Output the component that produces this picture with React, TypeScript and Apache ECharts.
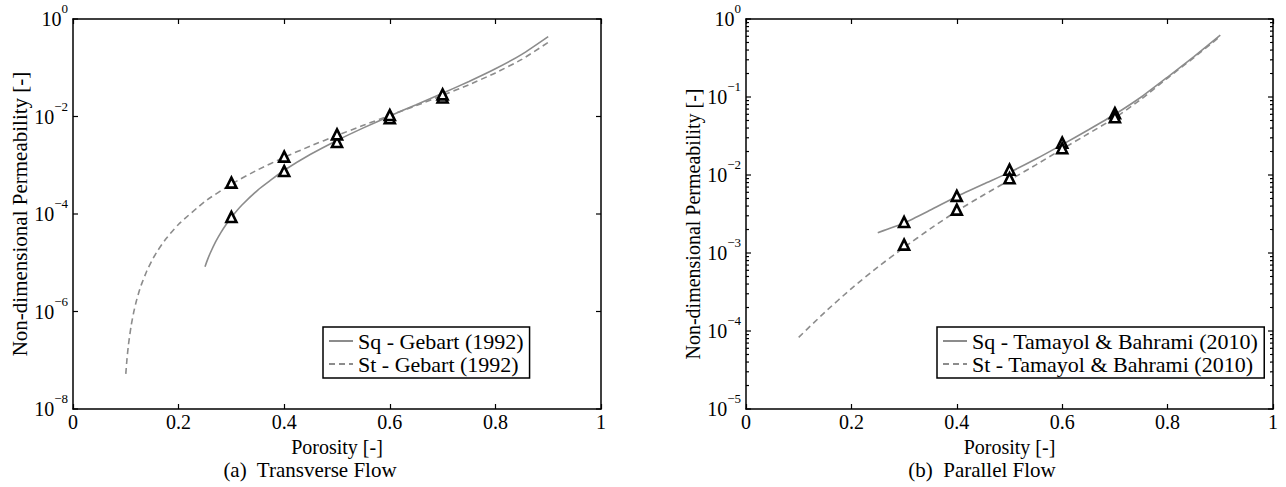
import React, { useEffect, useRef } from 'react';
import * as echarts from 'echarts';

const FONT = 'Liberation Serif';

// ---------- (a) Transverse Flow ----------
const A_SQ_POROSITY = [0.25, 0.255, 0.26, 0.27, 0.28, 0.29, 0.3, 0.32, 0.35, 0.375, 0.4, 0.45, 0.5, 0.55, 0.6, 0.65, 0.7, 0.75, 0.8, 0.85, 0.9];
const A_SQ_K = [8.31e-6, 1.171e-5, 1.588e-5, 2.678e-5, 4.161e-5, 6.095e-5, 8.545e-5, 1.526e-4, 3.102e-4, 5.0e-4, 7.884e-4, 1.679e-3, 3.23e-3, 5.843e-3, 1.02e-2, 1.75e-2, 3.003e-2, 5.244e-2, 9.548e-2, 0.1884, 0.4362];
const A_ST_POROSITY = [0.1, 0.102, 0.105, 0.11, 0.115, 0.12, 0.125, 0.13, 0.14, 0.15, 0.16, 0.175, 0.2, 0.25, 0.3, 0.35, 0.4, 0.45, 0.5, 0.55, 0.6, 0.65, 0.7, 0.75, 0.8, 0.85, 0.9];
const A_ST_K = [5.24e-8, 9.91e-8, 2.07e-7, 5.01e-7, 9.69e-7, 1.64e-6, 2.53e-6, 3.69e-6, 6.85e-6, 1.14e-5, 1.74e-5, 2.99e-5, 6.15e-5, 1.81e-4, 4.1e-4, 8.07e-4, 1.456e-3, 2.485e-3, 4.09e-3, 6.59e-3, 1.051e-2, 1.676e-2, 2.709e-2, 4.495e-2, 7.83e-2, 0.1485, 0.3314];
const MARK_POROSITY = [0.3, 0.4, 0.5, 0.6, 0.7];
const A_MARK_SQ = [8.7e-5, 7.6e-4, 3.0e-3, 9.2e-3, 2.45e-2];
const A_MARK_ST = [4.4e-4, 1.5e-3, 4.3e-3, 1.07e-2, 2.85e-2];
const A_Y_TICKS = [1e-8, 1e-6, 1e-4, 1e-2, 1];

// ---------- (b) Parallel Flow ----------
const B_SQ_POROSITY = [0.25, 0.3, 0.35, 0.4, 0.45, 0.5, 0.55, 0.6, 0.65, 0.7, 0.75, 0.8, 0.85, 0.9];
const B_SQ_K = [1.82e-3, 2.42e-3, 3.55e-3, 5.3e-3, 7.6e-3, 1.08e-2, 1.6e-2, 2.45e-2, 3.8e-2, 6.0e-2, 0.1, 0.18, 0.33, 0.62];
const B_ST_POROSITY = [0.1, 0.15, 0.2, 0.25, 0.3, 0.35, 0.4, 0.45, 0.5, 0.55, 0.6, 0.65, 0.7, 0.75, 0.8, 0.85, 0.9];
const B_ST_K = [8.3e-5, 1.75e-4, 3.5e-4, 6.6e-4, 1.18e-3, 2.05e-3, 3.45e-3, 5.5e-3, 8.6e-3, 1.35e-2, 2.15e-2, 3.4e-2, 5.4e-2, 9.4e-2, 0.175, 0.32, 0.6];
const B_MARK_SQ = [2.5e-3, 5.4e-3, 1.17e-2, 2.6e-2, 6.2e-2];
const B_MARK_ST = [1.28e-3, 3.6e-3, 9.1e-3, 2.2e-2, 5.5e-2];
const B_Y_TICKS = [1e-5, 1e-4, 1e-3, 1e-2, 1e-1, 1];
const MINOR_MULT = [2, 3, 4, 5, 6, 7, 8, 9];
const B_DECADES = [1e-5, 1e-4, 1e-3, 1e-2, 1e-1];

const LEGEND_A = ['Sq - Gebart (1992)', 'St - Gebart (1992)'];
const LEGEND_B = ['Sq - Tamayol & Bahrami (2010)', 'St - Tamayol & Bahrami (2010)'];

const zip = (xs: number[], ys: number[]) => xs.map((x, i) => [x, ys[i]]);

const CURVE_COLOR = '#8c8c8c';

function lineSeries(name: string, xi: number, yi: number, data: number[][], dashed: boolean) {
  return {
    name,
    type: 'line',
    xAxisIndex: xi,
    yAxisIndex: yi,
    data,
    symbol: 'none',
    showSymbol: false,
    smooth: 0.2,
    lineStyle: { color: CURVE_COLOR, width: 1.6, type: dashed ? [6, 4] : 'solid' },
    itemStyle: { color: CURVE_COLOR },
    z: 3,
  };
}

function markerSeries(xi: number, yi: number, data: number[][]) {
  return {
    type: 'scatter',
    xAxisIndex: xi,
    yAxisIndex: yi,
    data,
    symbol: 'triangle',
    symbolSize: [10, 10],
    itemStyle: { color: '#fff', borderColor: '#000', borderWidth: 2.6, opacity: 1 },
    z: 5,
    silent: true,
  };
}

function tickSeries(xi: number, yi: number, values: number[], len: number) {
  return {
    type: 'custom',
    xAxisIndex: xi,
    yAxisIndex: yi,
    silent: true,
    z: 10,
    data: values.map((v) => [0, v]),
    renderItem: (params: any, api: any) => {
      const v = api.value(1);
      const a = api.coord([0, v]);
      const b = api.coord([1, v]);
      return {
        type: 'group',
        children: [
          { type: 'line', shape: { x1: a[0], y1: a[1], x2: a[0] + len, y2: a[1] }, style: { stroke: '#000', lineWidth: 1.2 } },
          { type: 'line', shape: { x1: b[0] - len, y1: b[1], x2: b[0], y2: b[1] }, style: { stroke: '#000', lineWidth: 1.2 } },
        ],
      };
    },
  };
}

function xAxis(gridIndex: number, position: string) {
  const bottom = position === 'bottom';
  return {
    gridIndex,
    type: 'value',
    min: 0,
    max: 1,
    interval: 0.2,
    position,
    axisLine: { show: true, onZero: false, lineStyle: { color: '#000', width: 1.5 } },
    axisTick: { show: true, inside: true, length: 5, lineStyle: { color: '#000', width: 1.2 } },
    axisLabel: { show: bottom, margin: 3, color: '#000', fontFamily: FONT, fontSize: 20 },
    splitLine: { show: false },
    name: bottom ? 'Porosity [-]' : '',
    nameLocation: 'middle',
    nameGap: 18,
    nameTextStyle: { color: '#000', fontFamily: FONT, fontSize: 20 },
  };
}

function yAxis(gridIndex: number, position: string, min: number, hideOdd: boolean, nameSize: number, namePad: number[]) {
  const left = position === 'left';
  return {
    gridIndex,
    type: 'log',
    logBase: 10,
    min,
    max: 1,
    position,
    axisLine: { show: true, onZero: false, lineStyle: { color: '#000', width: 1.5 } },
    axisTick: { show: false },
    splitLine: { show: false },
    axisLabel: {
      show: left,
      margin: 5,
      formatter: (v: number) => {
        const e = Math.round(Math.log10(v));
        if (hideOdd && e % 2 !== 0) return '';
        return `{b|10}{s|${e === 0 ? '0' : '\u2212' + -e}}`;
      },
      rich: {
        b: { fontSize: 20, fontFamily: FONT, color: '#000', lineHeight: 34 },
        s: { fontSize: 13, fontFamily: FONT, color: '#000', lineHeight: 13, verticalAlign: 'top' },
      },
    },
    name: left ? 'Non-dimensional Permeability [-]' : '',
    nameLocation: 'middle',
    nameGap: 39,
    nameTextStyle: { color: '#000', fontFamily: FONT, fontSize: nameSize, padding: namePad },
  };
}

function legend(names: string[], left: number) {
  return {
    data: names,
    left,
    top: 327,
    orient: 'vertical',
    backgroundColor: '#fff',
    borderColor: '#000',
    borderWidth: 1.5,
    borderRadius: 0,
    padding: [3, 6, 3, 5],
    itemGap: 1,
    itemWidth: 24,
    itemHeight: 14,
    selectedMode: false,
    itemStyle: { opacity: 0, borderWidth: 0 },
    textStyle: { color: '#000', fontFamily: FONT, fontSize: 22 },
  };
}

export default function App() {
  const ref = useRef<HTMLDivElement>(null);
  useEffect(() => {
    if (!ref.current) return;
    const chart = echarts.init(ref.current, undefined, { renderer: 'svg' });
    const bMinor: number[] = [];
    B_DECADES.forEach((d) => MINOR_MULT.forEach((m) => bMinor.push(m * d)));
    chart.setOption({
      animation: false,
      backgroundColor: '#fff',
      textStyle: { fontFamily: FONT },
      grid: [
        { left: 73, top: 19, width: 528, height: 390, containLabel: false },
        { left: 746, top: 19, width: 527, height: 390, containLabel: false },
      ],
      xAxis: [xAxis(0, 'bottom'), xAxis(0, 'top'), xAxis(1, 'bottom'), xAxis(1, 'top')],
      yAxis: [
        yAxis(0, 'left', 1e-8, true, 21, [0, 0, 0, 0]),
        yAxis(0, 'right', 1e-8, true, 21, [0, 0, 0, 0]),
        yAxis(1, 'left', 1e-5, false, 20, [0, 20, 0, 0]),
        yAxis(1, 'right', 1e-5, false, 20, [0, 0, 0, 0]),
      ],
      legend: [legend(LEGEND_A, 323), legend(LEGEND_B, 937)],
      series: [
        lineSeries(LEGEND_A[0], 0, 0, zip(A_SQ_POROSITY, A_SQ_K), false),
        lineSeries(LEGEND_A[1], 0, 0, zip(A_ST_POROSITY, A_ST_K), true),
        markerSeries(0, 0, zip(MARK_POROSITY, A_MARK_SQ).concat(zip(MARK_POROSITY, A_MARK_ST))),
        tickSeries(0, 0, A_Y_TICKS, 5),
        lineSeries(LEGEND_B[0], 2, 2, zip(B_SQ_POROSITY, B_SQ_K), false),
        lineSeries(LEGEND_B[1], 2, 2, zip(B_ST_POROSITY, B_ST_K), true),
        markerSeries(2, 2, zip(MARK_POROSITY, B_MARK_SQ).concat(zip(MARK_POROSITY, B_MARK_ST))),
        tickSeries(2, 2, B_Y_TICKS, 5),
        tickSeries(2, 2, bMinor, 3),
      ],
      graphic: [
        {
          type: 'text',
          x: 310,
          y: 470,
          style: { text: '(a)  Transverse Flow', fontFamily: FONT, fontSize: 21, fill: '#000', align: 'center', verticalAlign: 'middle' },
        },
        {
          type: 'text',
          x: 982,
          y: 470,
          style: { text: '(b)  Parallel Flow', fontFamily: FONT, fontSize: 21, fill: '#000', align: 'center', verticalAlign: 'middle' },
        },
      ],
    });
    return () => chart.dispose();
  }, []);
  return <div ref={ref} style={{ position: 'fixed', left: 0, top: 0, width: 1286, height: 487 }} />;
}
